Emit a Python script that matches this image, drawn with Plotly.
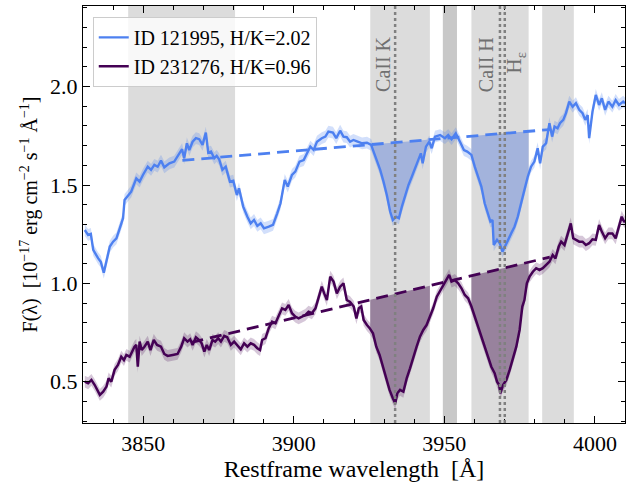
import numpy as np
import plotly.graph_objects as go

# ---------------- data ----------------
blue_wl = [3830.6, 3831.7, 3832.6, 3833.4, 3835.0, 3835.9, 3836.9, 3837.8, 3838.9, 3840.0,
           3841.1, 3842.2, 3843.3, 3843.8, 3844.9, 3846.0, 3847.7, 3848.8, 3849.9, 3851.5,
           3852.6, 3853.7, 3854.8, 3855.9, 3857.0, 3858.7, 3860.3, 3861.4, 3862.9, 3863.6,
           3864.5, 3865.3, 3866.4, 3867.5, 3868.6, 3869.7, 3870.8, 3871.6, 3872.5, 3873.6,
           3874.4, 3875.2, 3876.3, 3877.4, 3878.8, 3879.9, 3881.1, 3881.8, 3883.2, 3884.6,
           3885.7, 3886.8, 3887.9, 3889.0, 3890.1, 3891.7, 3893.1, 3894.5, 3895.6, 3897.0,
           3898.0, 3899.4, 3900.5, 3901.9, 3903.3, 3904.4, 3905.5, 3906.6, 3907.7, 3909.3,
           3910.5, 3911.5, 3913.0, 3914.1, 3915.4, 3916.5, 3917.6, 3918.7, 3919.8, 3921.0,
           3922.7, 3924.3, 3925.7, 3926.5, 3927.6, 3928.7, 3929.8, 3930.9, 3932.0, 3932.9,
           3934.0, 3934.9, 3935.9, 3937.0, 3938.1, 3939.2, 3940.3, 3941.4, 3942.2, 3942.8,
           3943.9, 3945.0, 3945.8, 3946.9, 3948.6, 3950.2, 3951.3, 3952.4, 3953.8, 3955.2,
           3956.5, 3957.6, 3959.0, 3960.1, 3961.2, 3962.3, 3963.4, 3964.5, 3965.3, 3966.0,
           3966.4, 3967.5, 3968.4, 3969.3, 3970.2, 3971.2, 3972.2, 3973.3, 3974.4, 3975.5,
           3976.6, 3977.7, 3978.8, 3979.9, 3981.0, 3981.8, 3982.7, 3983.8, 3984.9, 3985.8,
           3986.6, 3987.6, 3988.4, 3989.5, 3990.4, 3991.5, 3992.6, 3993.7, 3994.8, 3995.9,
           3996.8, 3997.6, 3998.1, 3999.2, 4000.3, 4001.4, 4002.3, 4003.4, 4004.5, 4005.8,
           4006.9, 4008.0, 4009.4, 4010.0]
blue_flux = [1.271, 1.246, 1.251, 1.170, 1.128, 1.110, 1.054, 1.119, 1.187, 1.212,
             1.229, 1.280, 1.331, 1.424, 1.444, 1.466, 1.534, 1.517, 1.551, 1.593,
             1.577, 1.602, 1.593, 1.624, 1.590, 1.610, 1.619, 1.644, 1.682, 1.636,
             1.712, 1.678, 1.720, 1.738, 1.733, 1.704, 1.766, 1.664, 1.670, 1.636,
             1.648, 1.631, 1.577, 1.593, 1.517, 1.522, 1.449, 1.483, 1.390, 1.339,
             1.305, 1.322, 1.292, 1.305, 1.280, 1.288, 1.297, 1.356, 1.407, 1.526,
             1.492, 1.551, 1.568, 1.619, 1.627, 1.661, 1.695, 1.678, 1.720, 1.738,
             1.746, 1.771, 1.766, 1.738, 1.776, 1.746, 1.743, 1.720, 1.729, 1.722,
             1.712, 1.715, 1.704, 1.670, 1.627, 1.577, 1.517, 1.449, 1.365, 1.322,
             1.339, 1.331, 1.390, 1.449, 1.500, 1.542, 1.585, 1.627, 1.661, 1.610,
             1.695, 1.720, 1.687, 1.746, 1.754, 1.738, 1.754, 1.733, 1.763, 1.720,
             1.678, 1.670, 1.653, 1.593, 1.542, 1.492, 1.407, 1.356, 1.314, 1.322,
             1.195, 1.221, 1.204, 1.161, 1.187, 1.221, 1.254, 1.288, 1.339, 1.415,
             1.475, 1.542, 1.593, 1.619, 1.687, 1.610, 1.695, 1.712, 1.814, 1.746,
             1.797, 1.788, 1.814, 1.831, 1.865, 1.924, 1.898, 1.916, 1.882, 1.865,
             1.831, 1.856, 1.738, 1.873, 1.958, 1.907, 1.941, 1.882, 1.924, 1.898,
             1.932, 1.907, 1.924, 1.915]

purple_wl = [3830.6, 3831.7, 3832.8, 3833.9, 3835.6, 3836.7, 3837.8, 3838.5, 3839.4, 3840.5,
             3841.6, 3842.7, 3843.6, 3844.4, 3845.5, 3846.4, 3847.1, 3847.7, 3848.2, 3848.8,
             3849.5, 3850.4, 3851.5, 3852.4, 3853.5, 3854.6, 3855.9, 3857.0, 3858.1, 3859.8,
             3861.4, 3862.6, 3863.6, 3864.7, 3865.6, 3866.4, 3867.5, 3868.6, 3869.4, 3870.3,
             3871.1, 3871.9, 3873.0, 3873.9, 3874.9, 3875.8, 3876.9, 3877.9, 3879.1, 3880.2,
             3881.3, 3882.4, 3883.5, 3884.6, 3885.7, 3886.8, 3887.9, 3888.8, 3889.5, 3890.6,
             3891.7, 3892.8, 3893.9, 3895.0, 3896.1, 3897.2, 3898.3, 3899.4, 3900.5, 3901.6,
             3902.7, 3903.8, 3904.9, 3906.0, 3907.2, 3908.2, 3909.3, 3910.1, 3911.0, 3912.1,
             3913.2, 3914.3, 3915.4, 3916.5, 3917.6, 3918.7, 3919.9, 3920.8, 3921.6, 3922.4,
             3923.2, 3924.3, 3925.2, 3926.3, 3927.4, 3928.5, 3929.6, 3930.7, 3931.8, 3932.9,
             3933.7, 3934.4, 3935.3, 3936.4, 3937.5, 3938.6, 3939.7, 3940.8, 3941.9, 3943.0,
             3944.1, 3945.2, 3946.3, 3947.5, 3948.5, 3949.6, 3950.8, 3951.6, 3952.4, 3953.5,
             3954.6, 3955.7, 3956.8, 3957.9, 3959.0, 3960.1, 3961.2, 3962.3, 3963.4, 3964.5,
             3965.6, 3966.7, 3967.5, 3968.2, 3968.6, 3969.5, 3970.6, 3971.7, 3972.8, 3973.9,
             3975.0, 3975.9, 3976.6, 3977.4, 3978.3, 3979.4, 3980.5, 3981.6, 3982.7, 3983.8,
             3984.9, 3986.0, 3986.9, 3988.0, 3988.8, 3989.9, 3990.9, 3992.0, 3992.8, 3993.7,
             3994.8, 3995.9, 3997.0, 3998.1, 3999.2, 4000.3, 4001.4, 4002.3, 4003.4, 4004.5,
             4005.8, 4006.9, 4008.0, 4008.9, 4009.4, 4010.0]
purple_flux = [0.500, 0.492, 0.509, 0.483, 0.433, 0.449, 0.475, 0.517, 0.500, 0.560,
               0.585, 0.627, 0.610, 0.636, 0.627, 0.661, 0.678, 0.687, 0.576, 0.704,
               0.661, 0.678, 0.704, 0.661, 0.712, 0.687, 0.678, 0.641, 0.631, 0.636,
               0.641, 0.678, 0.721, 0.704, 0.716, 0.687, 0.726, 0.712, 0.695, 0.653,
               0.687, 0.661, 0.712, 0.704, 0.721, 0.704, 0.733, 0.726, 0.687, 0.704,
               0.687, 0.665, 0.695, 0.678, 0.695, 0.687, 0.670, 0.661, 0.712, 0.721,
               0.772, 0.805, 0.797, 0.839, 0.873, 0.865, 0.890, 0.848, 0.831, 0.822,
               0.831, 0.839, 0.856, 0.848, 0.873, 0.932, 0.983, 0.949, 0.915, 1.034,
               1.009, 0.949, 0.983, 1.000, 0.915, 0.905, 0.882, 0.822, 0.873, 0.882,
               0.814, 0.788, 0.772, 0.746, 0.678, 0.636, 0.576, 0.526, 0.458, 0.416,
               0.390, 0.441, 0.458, 0.449, 0.517, 0.568, 0.627, 0.678, 0.729, 0.763,
               0.788, 0.831, 0.873, 0.932, 0.958, 0.992, 1.017, 1.043, 1.009, 1.017,
               1.000, 0.975, 0.941, 0.924, 0.882, 0.831, 0.780, 0.729, 0.678, 0.627,
               0.576, 0.543, 0.500, 0.483, 0.441, 0.483, 0.509, 0.560, 0.619, 0.678,
               0.763, 0.882, 0.915, 1.000, 1.034, 1.059, 1.077, 1.068, 1.077, 1.094,
               1.110, 1.144, 1.127, 1.187, 1.212, 1.195, 1.246, 1.305, 1.229, 1.221,
               1.212, 1.212, 1.195, 1.204, 1.224, 1.221, 1.297, 1.263, 1.229, 1.254,
               1.254, 1.229, 1.297, 1.339, 1.322, 1.310]

blue_err = 0.03
purple_err = 0.03

# pseudo-continuum (dashed) end points
blue_cont_wl = [3863.0, 3985.0]
blue_cont_flux = [1.625, 1.782]
purple_cont_wl = [3866.0, 3985.0]
purple_cont_flux = [0.700, 1.133]

# shaded windows
cont_windows = [(3845.0, 3880.5), (3982.5, 3993.0)]
line_windows = {"CaII K": (3925.4, 3945.2), "CaII H": (3959.0, 3978.0)}
dark_window = (3949.5, 3954.2)

# line centres
line_centres = {"CaII K": 3933.66, "CaII H": 3968.47, "Hε": 3970.07}

legend_names = ["ID 121995, H/K=2.02", "ID 231276, H/K=0.96"]

BLUE = "#4d80f0"
PURPLE = "#440154"
BLUE_FILL = "#a3b3dc"
PURPLE_FILL = "#98829d"
FONT = "Liberation Serif"

fig = go.Figure()


def envelope(wl, fl, err, color):
    wl = np.array(wl)
    fl = np.array(fl)
    fig.add_trace(go.Scatter(x=wl, y=fl + err, mode="lines", line=dict(width=0),
                             showlegend=False, hoverinfo="skip"))
    fig.add_trace(go.Scatter(x=wl, y=fl - err, mode="lines", line=dict(width=0),
                             fill="tonexty", fillcolor=color,
                             showlegend=False, hoverinfo="skip"))


def absorption(lo, hi, wl, fl, cwl, cfl, color):
    grid = np.linspace(lo, hi, 300)
    s = np.interp(grid, wl, fl)
    slope = (cfl[1] - cfl[0]) / (cwl[1] - cwl[0])
    c = cfl[0] + slope * (grid - cwl[0])
    low = np.minimum(s, c)
    xs = np.concatenate([grid, grid[::-1]])
    ys = np.concatenate([c, low[::-1]])
    fig.add_trace(go.Scatter(x=xs, y=ys, mode="lines", line=dict(width=0),
                             fill="toself", fillcolor=color,
                             showlegend=False, hoverinfo="skip"))


envelope(blue_wl, blue_flux, blue_err, "rgba(77,128,240,0.25)")
envelope(purple_wl, purple_flux, purple_err, "rgba(68,1,84,0.22)")

for name, (lo, hi) in line_windows.items():
    absorption(lo, hi, blue_wl, blue_flux, blue_cont_wl, blue_cont_flux, BLUE_FILL)
    absorption(lo, hi, purple_wl, purple_flux, purple_cont_wl, purple_cont_flux, PURPLE_FILL)

fig.add_trace(go.Scatter(x=blue_wl, y=blue_flux, mode="lines",
                         line=dict(color=BLUE, width=2.4), name=legend_names[0]))
fig.add_trace(go.Scatter(x=purple_wl, y=purple_flux, mode="lines",
                         line=dict(color=PURPLE, width=2.5), name=legend_names[1]))
fig.add_trace(go.Scatter(x=blue_cont_wl, y=blue_cont_flux, mode="lines",
                         line=dict(color=BLUE, width=2.8, dash="12px,7px"),
                         showlegend=False, hoverinfo="skip"))
fig.add_trace(go.Scatter(x=purple_cont_wl, y=purple_cont_flux, mode="lines",
                         line=dict(color=PURPLE, width=2.8, dash="12px,7px"),
                         showlegend=False, hoverinfo="skip"))

shapes = []
for lo, hi in cont_windows + list(line_windows.values()):
    shapes.append(dict(type="rect", xref="x", yref="paper", x0=lo, x1=hi, y0=0, y1=1,
                       fillcolor="#dcdcdc", line=dict(width=0), layer="below"))
shapes.append(dict(type="rect", xref="x", yref="paper", x0=dark_window[0], x1=dark_window[1],
                   y0=0, y1=1, fillcolor="#c8c8c8", line=dict(width=0), layer="below"))
for name, lam in line_centres.items():
    shapes.append(dict(type="line", xref="x", yref="paper", x0=lam, x1=lam, y0=0, y1=1,
                       line=dict(color="#808080", width=2.5, dash="dot"), layer="above"))

annotations = [
    dict(x=3929.6, y=2.115, text="CaII K", textangle=-90, showarrow=False,
         font=dict(family=FONT, size=20, color="#707070")),
    dict(x=3963.9, y=2.11, text="CaII H", textangle=-90, showarrow=False,
         font=dict(family=FONT, size=20, color="#707070")),
    dict(x=3973.6, y=2.12, text="H<sub>ε</sub>", textangle=-90, showarrow=False,
         font=dict(family=FONT, size=21, color="#707070")),
]

axis_common = dict(showline=True, linecolor="black", linewidth=1.3, mirror="allticks",
                   ticks="inside", ticklen=7, tickwidth=1.2, tickcolor="black",
                   showgrid=False, zeroline=False, automargin=False,
                   tickfont=dict(family=FONT, size=22, color="black"))

fig.update_layout(
    width=636, height=484,
    margin=dict(l=83, r=11, t=6, b=61),
    paper_bgcolor="white", plot_bgcolor="white",
    shapes=shapes, annotations=annotations,
    font=dict(family=FONT, size=20, color="black"),
    legend=dict(x=0.018, y=0.974, xanchor="left", yanchor="top", traceorder="normal",
                bgcolor="rgba(255,255,255,0.8)", bordercolor="#cccccc", borderwidth=1,
                font=dict(family=FONT, size=20, color="black"), tracegroupgap=0),
    xaxis=dict(range=[3830, 4010], tickvals=[3850, 3900, 3950, 4000],
               minor=dict(ticks="inside", dtick=10, ticklen=4, tickcolor="black"),
               title=dict(text="Restframe wavelength  [Å]", font=dict(family=FONT, size=24),
                          standoff=4),
               **axis_common),
    yaxis=dict(range=[0.29, 2.41], tickvals=[0.5, 1.0, 1.5, 2.0], ticktext=["0.5", "1.0", "1.5", "2.0"],
               minor=dict(ticks="inside", dtick=0.1, ticklen=4, tickcolor="black"),
               title=dict(text="F(λ)  [10<sup>−17</sup> erg cm<sup>−2</sup> s<sup>−1</sup> Å<sup>−1</sup>]",
                          font=dict(family=FONT, size=20), standoff=6),
               **axis_common),
)

fig.write_html("out.html", config={"displayModeBar": False},
               post_script="document.body.style.margin='0px';")
